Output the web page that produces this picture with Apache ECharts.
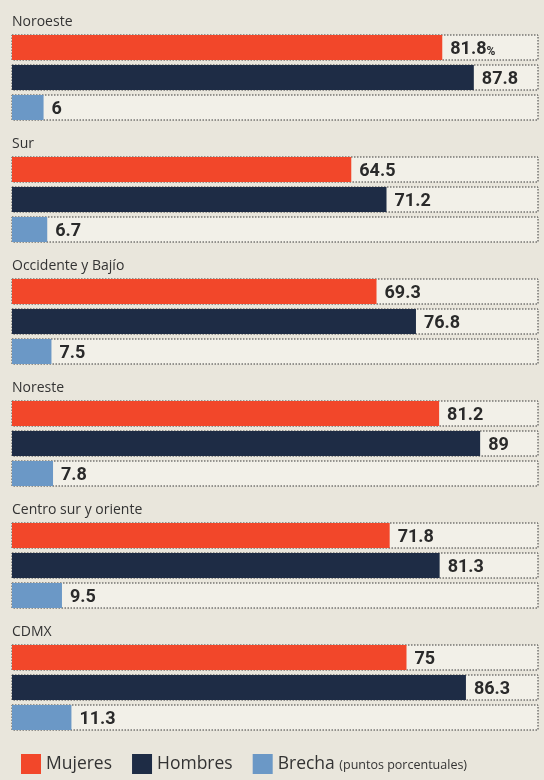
<!DOCTYPE html>
<html>
<head>
<meta charset="utf-8">
<script src="https://cdn.jsdelivr.net/npm/echarts@6/dist/echarts.min.js"></script>
<style>
  html, body { margin: 0; padding: 0; background: #e9e6dc; }
  #chart { width: 544px; height: 780px; }
</style>
</head>
<body>
<div id="chart"></div>
<script>
  // datos por region (porcentaje)
  var regiones = ['Noroeste', 'Sur', 'Occidente y Bajío', 'Noreste', 'Centro sur y oriente', 'CDMX'];
  var mujeres = [81.8, 64.5, 69.3, 81.2, 71.8, 75];
  var hombres = [87.8, 71.2, 76.8, 89, 81.3, 86.3];
  var brecha = [6, 6.7, 7.5, 7.8, 9.5, 11.3];

  var bgStyle = {
    color: '#f2f0e8',
    borderColor: '#3a3a3a',
    borderWidth: 1,
    borderType: [1.5, 1.5]
  };

  var valueLabel = {
    show: true,
    position: 'right',
    distance: 8,
    offset: [0, 2],
    color: '#2a2a2a',
    fontFamily: 'Roboto',
    fontWeight: 'bold',
    fontSize: 18,
    rich: {
      p: { fontFamily: 'Roboto', fontWeight: 'bold', fontSize: 12, color: '#2a2a2a', padding: [4, 0, 0, 0] }
    }
  };

  function makeSeries(name, data, color, withPct) {
    var lbl = Object.assign({}, valueLabel);
    if (withPct) {
      lbl.formatter = function (p) {
        return p.dataIndex === 0 ? p.value + '{p|%}' : String(p.value);
      };
    }
    return {
      name: name,
      type: 'bar',
      data: data,
      barWidth: 25,
      barGap: '20%',
      itemStyle: { color: color },
      showBackground: true,
      backgroundStyle: bgStyle,
      label: lbl,
      silent: true
    };
  }

  var chart = echarts.init(document.getElementById('chart'));
  chart.setOption({
    backgroundColor: '#e9e6dc',
    animation: false,
    grid: { left: 12, right: 6, top: 16.5, height: 732 },
    xAxis: {
      type: 'value',
      min: 0,
      max: 100,
      show: false
    },
    yAxis: {
      type: 'category',
      inverse: true,
      data: regiones,
      axisLine: { show: false },
      axisTick: { show: false },
      splitLine: { show: false },
      axisLabel: {
        inside: true,
        interval: 0,
        hideOverlap: false,
        margin: 0,
        align: 'left',
        verticalAlign: 'bottom',
        padding: [0, 0, 48, 0],
        color: '#333',
        fontFamily: 'Open Sans',
        fontSize: 14
      }
    },
    legend: {
      left: 21,
      top: 754,
      padding: 0,
      icon: 'rect',
      itemWidth: 20,
      itemHeight: 20,
      itemGap: 20,
      textStyle: {
        color: '#333',
        fontFamily: 'Open Sans',
        fontSize: 17.5,
        rich: {
          a: { fontFamily: 'Open Sans', fontSize: 17.5, color: '#333' },
          b: { fontFamily: 'Open Sans', fontSize: 12.5, color: '#333', padding: [3, 0, 0, 0] }
        }
      },
      formatter: function (name) {
        return name === 'Brecha' ? '{a|Brecha} {b|(puntos porcentuales)}' : name;
      },
      data: ['Mujeres', 'Hombres', 'Brecha']
    },
    series: [
      makeSeries('Mujeres', mujeres, '#f2472a', true),
      makeSeries('Hombres', hombres, '#1e2c45', false),
      makeSeries('Brecha', brecha, '#6b98c6', false)
    ]
  });
</script>
</body>
</html>
